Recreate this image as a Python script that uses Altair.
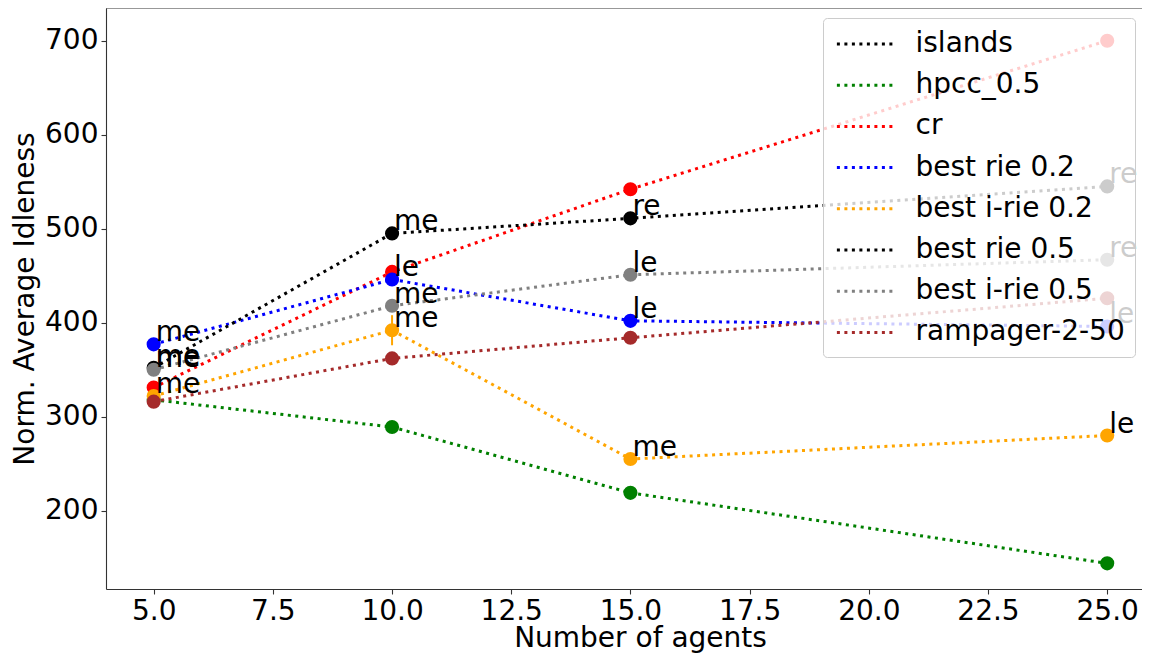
import altair as alt
import pandas as pd

# ---------------- data ----------------
agents = [5, 10, 15, 25]

series_names = ["islands", "hpcc_0.5", "cr", "best rie 0.2", "best i-rie 0.2",
                "best rie 0.5", "best i-rie 0.5", "rampager-2-50"]
series_colors = ["#000000", "#008000", "#ff0000", "#0000ff", "#ffa500",
                 "#000000", "#808080", "#a52a2a"]

hpcc_05 = [318, 289, 219, 144]
cr = [331, 454, 542, 700]
best_rie_02 = [377, 446, 402, 396]
best_irie_02 = [322, 392, 255, 280]
best_rie_05 = [352, 495, 511, 545]
best_irie_05 = [350, 418, 451, 467]
rampager_2_50 = [316, 362, 384, 426]

labels_rie_02 = ["me", "le", "le", "le"]
labels_irie_02 = ["me", "me", "me", "le"]
labels_rie_05 = ["me", "me", "re", "re"]
labels_irie_05 = ["me", "me", "le", "re"]

err_irie_02 = [0, 16, 0, 0]

x_ticks = [5, 7.5, 10, 12.5, 15, 17.5, 20, 22.5, 25]
y_ticks = [200, 300, 400, 500, 600, 700]

# ---------------- build tables ----------------
series_values = {
    "hpcc_0.5": hpcc_05,
    "cr": cr,
    "best rie 0.2": best_rie_02,
    "best i-rie 0.2": best_irie_02,
    "best rie 0.5": best_rie_05,
    "best i-rie 0.5": best_irie_05,
    "rampager-2-50": rampager_2_50,
}
series_labels = {
    "best rie 0.2": labels_rie_02,
    "best i-rie 0.2": labels_irie_02,
    "best rie 0.5": labels_rie_05,
    "best i-rie 0.5": labels_irie_05,
}
series_errors = {"best i-rie 0.2": err_irie_02}

W, H = 1036, 581
FONT = "DejaVu Sans"
FS = 28

x_scale = alt.Scale(domain=[4, 25.73], nice=False, zero=False)
y_scale = alt.Scale(domain=[116.7, 734.8], nice=False, zero=False)
color_scale = alt.Scale(domain=series_names, range=series_colors)

legend = alt.Legend(
    title=None, orient="none", legendX=717, legendY=10,
    symbolType="M-0.85,0H3.15", symbolSize=812, symbolStrokeWidth=3,
    symbolDash=[3, 4.5], symbolOpacity=1,
    labelFontSize=FS, labelFont=FONT, labelColor="black", labelLimit=0,
    labelOffset=50.5, rowPadding=11.2, padding=10,
    fillColor="rgba(255,255,255,0.8)", strokeColor="#cccccc",
    cornerRadius=4,
)

x_enc = alt.X("agents:Q", scale=x_scale,
              axis=alt.Axis(values=x_ticks, format=".1f", title="Number of agents",
                            titleY=57, titleX=534, titleBaseline="alphabetic"))
y_enc = alt.Y("value:Q", scale=y_scale,
              axis=alt.Axis(values=y_ticks, title="Norm. Average Idleness",
                            titleX=-73, titleBaseline="alphabetic"))
c_enc = alt.Color("series:N", scale=color_scale, legend=legend)

layers = []
for name in series_names:
    if name not in series_values:
        continue
    vals = series_values[name]
    df = pd.DataFrame({"agents": agents, "value": vals, "series": name})
    if name in series_errors:
        err = series_errors[name]
        edf = pd.DataFrame({
            "agents": agents,
            "lo": [v - e for v, e in zip(vals, err)],
            "hi": [v + e for v, e in zip(vals, err)],
            "series": name,
        })
        edf = edf[[e > 0 for e in err]]
        layers.append(
            alt.Chart(edf).mark_rule(strokeWidth=2).encode(
                x=x_enc, y=alt.Y("lo:Q", scale=y_scale), y2="hi:Q", color=c_enc)
        )
    layers.append(
        alt.Chart(df).mark_line(strokeDash=[3, 4.5], strokeWidth=3).encode(
            x=x_enc, y=y_enc, color=c_enc)
    )
    layers.append(
        alt.Chart(df).mark_circle(size=200, opacity=1).encode(
            x=x_enc, y=y_enc, color=c_enc)
    )

label_rows = []
for name, labs in series_labels.items():
    for a, v, l in zip(agents, series_values[name], labs):
        label_rows.append({"agents": a, "value": v, "label": l, "series": name})
label_df = pd.DataFrame(label_rows)

layers.append(
    alt.Chart(label_df).mark_text(
        align="left", baseline="alphabetic", dx=2, dy=-3,
        fontSize=FS, font=FONT, color="black"
    ).encode(x=x_enc, y=y_enc, text="label:N")
)

top_spine = alt.Chart(pd.DataFrame({"a": [0]})).mark_rule(
    color="#333333", strokeWidth=1.1
).encode(x=alt.value(0), x2=alt.value(W), y=alt.value(0))
layers.append(top_spine)

chart = alt.layer(*layers).properties(
    width=W, height=H,
    autosize=alt.AutoSizeParams(type="none"),
    padding={"left": 98, "top": 0, "right": 0, "bottom": 64},
).configure(font=FONT).configure_view(stroke=None).configure_axis(
    grid=False, domainColor="#333333", domainWidth=1.1,
    tickColor="#333333", tickWidth=1.1, tickSize=5,
    labelFont=FONT, labelFontSize=FS, labelColor="black", labelPadding=3,
    titleFont=FONT, titleFontSize=FS, titleFontWeight="normal", titleColor="black",
)

chart.save("out.html", embed_options={"renderer": "svg", "actions": False})
